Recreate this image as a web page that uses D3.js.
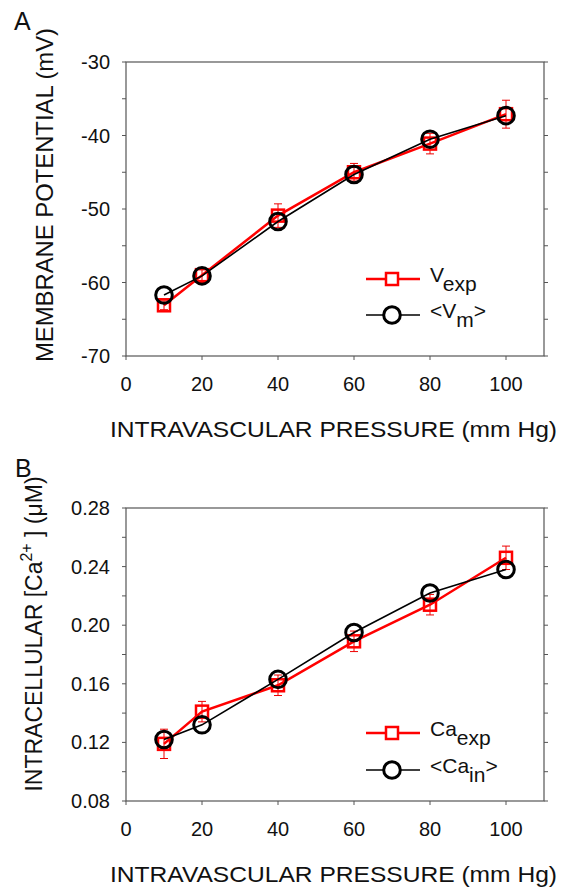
<!DOCTYPE html>
<html>
<head>
<meta charset="utf-8">
<script src="https://cdn.jsdelivr.net/npm/d3@7"></script>
<style>
  body { margin: 0; background: #fff; }
  svg { display: block; font-family: "Liberation Sans", Arial, sans-serif; }
</style>
</head>
<body>
<div id="wrapper"></div>
<script>
// pressure values (mm Hg)
const pressure = [10, 20, 40, 60, 80, 100]

// panel A: membrane potential (mV)
const vExp = [-63.1, -59.0, -50.9, -45.0, -41.1, -37.1]
const vExpErr = [0.6, 1.0, 1.6, 1.2, 1.4, 1.9]
const vModel = [-61.7, -59.1, -51.7, -45.3, -40.5, -37.3]

// panel B: intracellular calcium (uM)
const caExp = [0.119, 0.141, 0.159, 0.189, 0.214, 0.246]
const caExpErr = [0.010, 0.007, 0.007, 0.007, 0.007, 0.008]
const caModel = [0.122, 0.132, 0.163, 0.195, 0.222, 0.238]

const xTicks = [0, 20, 40, 60, 80, 100]
const vTicks = [-70, -60, -50, -40, -30]
const caTicks = [0.08, 0.12, 0.16, 0.20, 0.24, 0.28]

const width = 566
const height = 890
const plotLeft = 126
const plotRight = 544

const svg = d3.select("#wrapper").append("svg")
  .attr("width", width)
  .attr("height", height)

const xScale = d3.scaleLinear().domain([0, 110]).range([plotLeft, plotRight])

const drawPanel = (opts) => {
  const { top, bottom, yDomain, ticks, minorTicks, fmt, expVals, errVals, modelVals } = opts
  const yScale = d3.scaleLinear().domain(yDomain).range([bottom, top])
  const g = svg.append("g")

  // frame
  g.append("rect")
    .attr("x", plotLeft).attr("y", top)
    .attr("width", plotRight - plotLeft).attr("height", bottom - top)
    .attr("fill", "none").attr("stroke", "#555").attr("stroke-width", 1.2)

  // y ticks, left and right, majors and minors
  const allY = ticks.concat(minorTicks)
  allY.forEach(t => {
    g.append("line")
      .attr("x1", plotLeft - 4).attr("x2", plotLeft)
      .attr("y1", yScale(t)).attr("y2", yScale(t))
      .attr("stroke", "#555").attr("stroke-width", 1)
    g.append("line")
      .attr("x1", plotRight).attr("x2", plotRight + 4)
      .attr("y1", yScale(t)).attr("y2", yScale(t))
      .attr("stroke", "#555").attr("stroke-width", 1)
  })
  ticks.forEach(t => {
    g.append("text")
      .attr("x", 110).attr("y", yScale(t) + 7)
      .attr("text-anchor", "end")
      .attr("font-size", 20)
      .attr("fill", "#111")
      .text(fmt(t))
  })

  // x ticks
  xTicks.forEach(t => {
    g.append("line")
      .attr("x1", xScale(t)).attr("x2", xScale(t))
      .attr("y1", bottom).attr("y2", bottom + 4)
      .attr("stroke", "#555").attr("stroke-width", 1)
    g.append("text")
      .attr("x", xScale(t)).attr("y", bottom + 35)
      .attr("text-anchor", "middle")
      .attr("font-size", 20)
      .attr("fill", "#111")
      .text(t)
  })

  g.append("text")
    .attr("x", 110).attr("y", bottom + 81)
    .attr("font-size", 22.5)
    .attr("textLength", 447)
    .attr("lengthAdjust", "spacingAndGlyphs")
    .attr("fill", "#111")
    .text("INTRAVASCULAR PRESSURE (mm Hg)")

  const line = d3.line().x(d => xScale(d[0])).y(d => yScale(d[1]))
  const expPts = pressure.map((p, i) => [p, expVals[i]])
  const modelPts = pressure.map((p, i) => [p, modelVals[i]])

  // error bars
  expPts.forEach((d, i) => {
    const x = xScale(d[0])
    const y0 = yScale(d[1] - errVals[i])
    const y1 = yScale(d[1] + errVals[i])
    g.append("line").attr("x1", x).attr("x2", x).attr("y1", y0).attr("y2", y1)
      .attr("stroke", "#e00").attr("stroke-width", 1)
    ;[y0, y1].forEach(y => {
      g.append("line").attr("x1", x - 4).attr("x2", x + 4).attr("y1", y).attr("y2", y)
        .attr("stroke", "#e00").attr("stroke-width", 1)
    })
  })

  g.append("path").attr("d", line(expPts))
    .attr("fill", "none").attr("stroke", "#f00").attr("stroke-width", 2.5)
  expPts.forEach(d => {
    g.append("rect")
      .attr("x", xScale(d[0]) - 6).attr("y", yScale(d[1]) - 6)
      .attr("width", 12).attr("height", 12)
      .attr("fill", "none").attr("stroke", "#f00").attr("stroke-width", 2.5)
  })

  g.append("path").attr("d", line(modelPts))
    .attr("fill", "none").attr("stroke", "#000").attr("stroke-width", 1.6)
  modelPts.forEach(d => {
    g.append("circle")
      .attr("cx", xScale(d[0])).attr("cy", yScale(d[1]))
      .attr("r", 8.3)
      .attr("fill", "none").attr("stroke", "#000").attr("stroke-width", 3)
  })
  return g
}

const legendEntry = (g, y, kind, parts) => {
  const x0 = 366, x1 = 420, xm = 392
  if (kind === "exp") {
    g.append("line").attr("x1", x0).attr("x2", x1).attr("y1", y).attr("y2", y)
      .attr("stroke", "#f00").attr("stroke-width", 2.5)
    g.append("rect").attr("x", xm - 6).attr("y", y - 6).attr("width", 12).attr("height", 12)
      .attr("fill", "#fff").attr("stroke", "#f00").attr("stroke-width", 2.5)
  } else {
    g.append("line").attr("x1", x0).attr("x2", x1).attr("y1", y).attr("y2", y)
      .attr("stroke", "#000").attr("stroke-width", 1.6)
    g.append("circle").attr("cx", xm).attr("cy", y).attr("r", 8.3)
      .attr("fill", "#fff").attr("stroke", "#000").attr("stroke-width", 3)
  }
  const t = g.append("text").attr("x", 430).attr("y", y + 3)
    .attr("font-size", 21).attr("fill", "#111")
  parts.forEach(p => {
    const ts = t.append("tspan").text(p.text)
    if (p.dy) ts.attr("dy", p.dy)
  })
}

// panel A
const gA = drawPanel({
  top: 62, bottom: 356,
  yDomain: [-70, -30],
  ticks: vTicks,
  minorTicks: [-65, -55, -45, -35],
  fmt: d => d,
  expVals: vExp, errVals: vExpErr, modelVals: vModel
})
legendEntry(gA, 279, "exp", [{ text: "V" }, { text: "exp", dy: 9 }])
legendEntry(gA, 315, "model", [{ text: "<V" }, { text: "m", dy: 9 }, { text: ">", dy: -9 }])

svg.append("text").attr("x", 14).attr("y", 30).attr("font-size", 25).attr("fill", "#111").text("A")
svg.append("text")
  .attr("transform", "translate(53,362) rotate(-90)")
  .attr("font-size", 24)
  .attr("textLength", 334)
  .attr("lengthAdjust", "spacingAndGlyphs")
  .attr("fill", "#111")
  .text("MEMBRANE POTENTIAL (mV)")

// panel B
const gB = drawPanel({
  top: 508, bottom: 801,
  yDomain: [0.08, 0.28],
  ticks: caTicks,
  minorTicks: [0.10, 0.14, 0.18, 0.22, 0.26],
  fmt: d3.format(".2f"),
  expVals: caExp, errVals: caExpErr, modelVals: caModel
})
legendEntry(gB, 733, "exp", [{ text: "Ca" }, { text: "exp", dy: 9 }])
legendEntry(gB, 770, "model", [{ text: "<Ca" }, { text: "in", dy: 9 }, { text: ">", dy: -9 }])

svg.append("text").attr("x", 15).attr("y", 477).attr("font-size", 25).attr("fill", "#111").text("B")
const yLabB = svg.append("text")
  .attr("transform", "translate(42,634) rotate(-90)")
  .attr("text-anchor", "middle")
  .attr("font-size", 23)
  .attr("fill", "#111")
yLabB.append("tspan").text("INTRACELLULAR [Ca")
yLabB.append("tspan").attr("dy", -10).attr("font-size", 16).text("2+")
yLabB.append("tspan").attr("dy", 10).text(" ] (\u03bcM)")
</script>
</body>
</html>
